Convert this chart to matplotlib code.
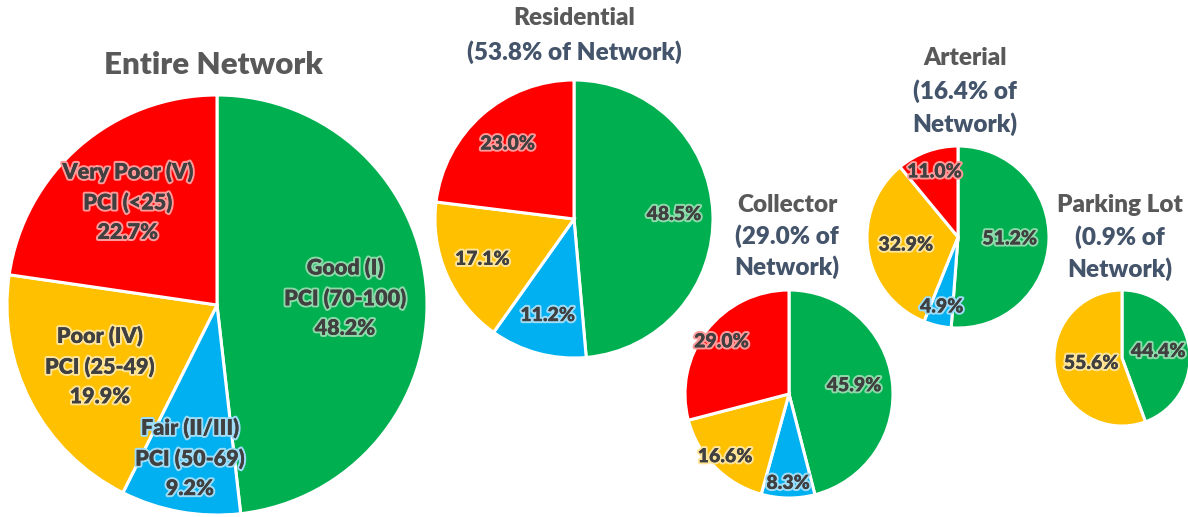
import matplotlib.pyplot as plt
import matplotlib.patheffects as pe
import numpy as np

plt.rcParams['font.family'] = ['Lato', 'DejaVu Sans']

W, H = 1188, 517

# condition categories, clockwise from 12 o'clock
categories = ['Good (I)', 'Fair (II/III)', 'Poor (IV)', 'Very Poor (V)']
pci_ranges = ['PCI (70-100)', 'PCI (50-69)', 'PCI (25-49)', 'PCI (<25)']
colors = ['#00B050', '#00B0F0', '#FFC000', '#FF0000']
glows = ['#8ED9A9', '#9EDCF7', '#FFE59A', '#FF9A9A']

# share of each condition (%)
entire = [48.2, 9.2, 19.9, 22.7]
residential = [48.5, 11.2, 17.1, 23.0]
collector = [45.9, 8.3, 16.6, 29.0]
arterial = [51.2, 4.9, 32.9, 11.0]
parking = [44.4, 0.0, 55.6, 0.0]

titles = ['Entire Network', 'Residential', 'Collector', 'Arterial', 'Parking Lot']
network_share = [None, 53.8, 29.0, 16.4, 0.9]

fig = plt.figure(figsize=(W / 100, H / 100), dpi=100)


def draw_pie(values, cx, cy, r, dist, fsize, full_labels=False):
    # cx, cy, r in pixels (y from top)
    ax = fig.add_axes([(cx - r) / W, (H - cy - r) / H, 2 * r / W, 2 * r / H])
    keep = [i for i, v in enumerate(values) if v > 0]
    vals = [values[i] for i in keep]
    wedges, _ = ax.pie(vals, colors=[colors[i] for i in keep], startangle=90,
                       counterclock=False, radius=1,
                       wedgeprops=dict(edgecolor='white', linewidth=2.2))
    for w, i, v in zip(wedges, keep, vals):
        ang = np.deg2rad((w.theta1 + w.theta2) / 2)
        d = dist[i] if isinstance(dist, list) else dist
        txt = f'{v:.1f}%'
        if full_labels:
            txt = f'{categories[i]}\n{pci_ranges[i]}\n{txt}'
        ax.text(d * np.cos(ang), d * np.sin(ang), txt, ha='center', va='center',
                fontsize=fsize, fontweight='heavy', color='#404040', linespacing=1.5,
                path_effects=[pe.withStroke(linewidth=3, foreground=glows[i]), pe.Normal()])
    ax.set_xlim(-1.0, 1.0)
    ax.set_ylim(-1.0, 1.0)
    ax.set_aspect('equal')
    ax.axis('off')


def title_lines(lines, x, y0, step, fsize):
    for k, s in enumerate(lines):
        fig.text(x / W, 1 - (y0 + k * step) / H, s, ha='center', va='center',
                 fontsize=fsize, fontweight='heavy',
                 color='#595959' if k == 0 else '#44546A')


draw_pie(entire, 217, 305, 210, [0.61, 0.74, 0.63, 0.65], 15.5, full_labels=True)
draw_pie(residential, 574, 219, 139, 0.72, 14)
draw_pie(collector, 789, 394, 104, [0.63, 0.86, 0.86, 0.82], 14)
draw_pie(arterial, 958, 237, 91, [0.57, 0.79, 0.58, 0.76], 14)
draw_pie(parking, 1122, 358, 68, [0.54, 0, 0.46, 0], 14)

title_lines([titles[0]], 213, 65, 0, 22.5)
title_lines([titles[1], f'({network_share[1]}% of Network)'], 574, 18, 34, 17.5)
title_lines([titles[2], f'({network_share[2]}% of', 'Network)'], 787, 205, 31, 17.5)
title_lines([titles[3], f'({network_share[3]}% of', 'Network)'], 965, 58, 33, 17.5)
title_lines([titles[4], f'({network_share[4]}% of', 'Network)'], 1120, 205, 32, 17.5)

fig.savefig('out.png', dpi=100, facecolor='white')
